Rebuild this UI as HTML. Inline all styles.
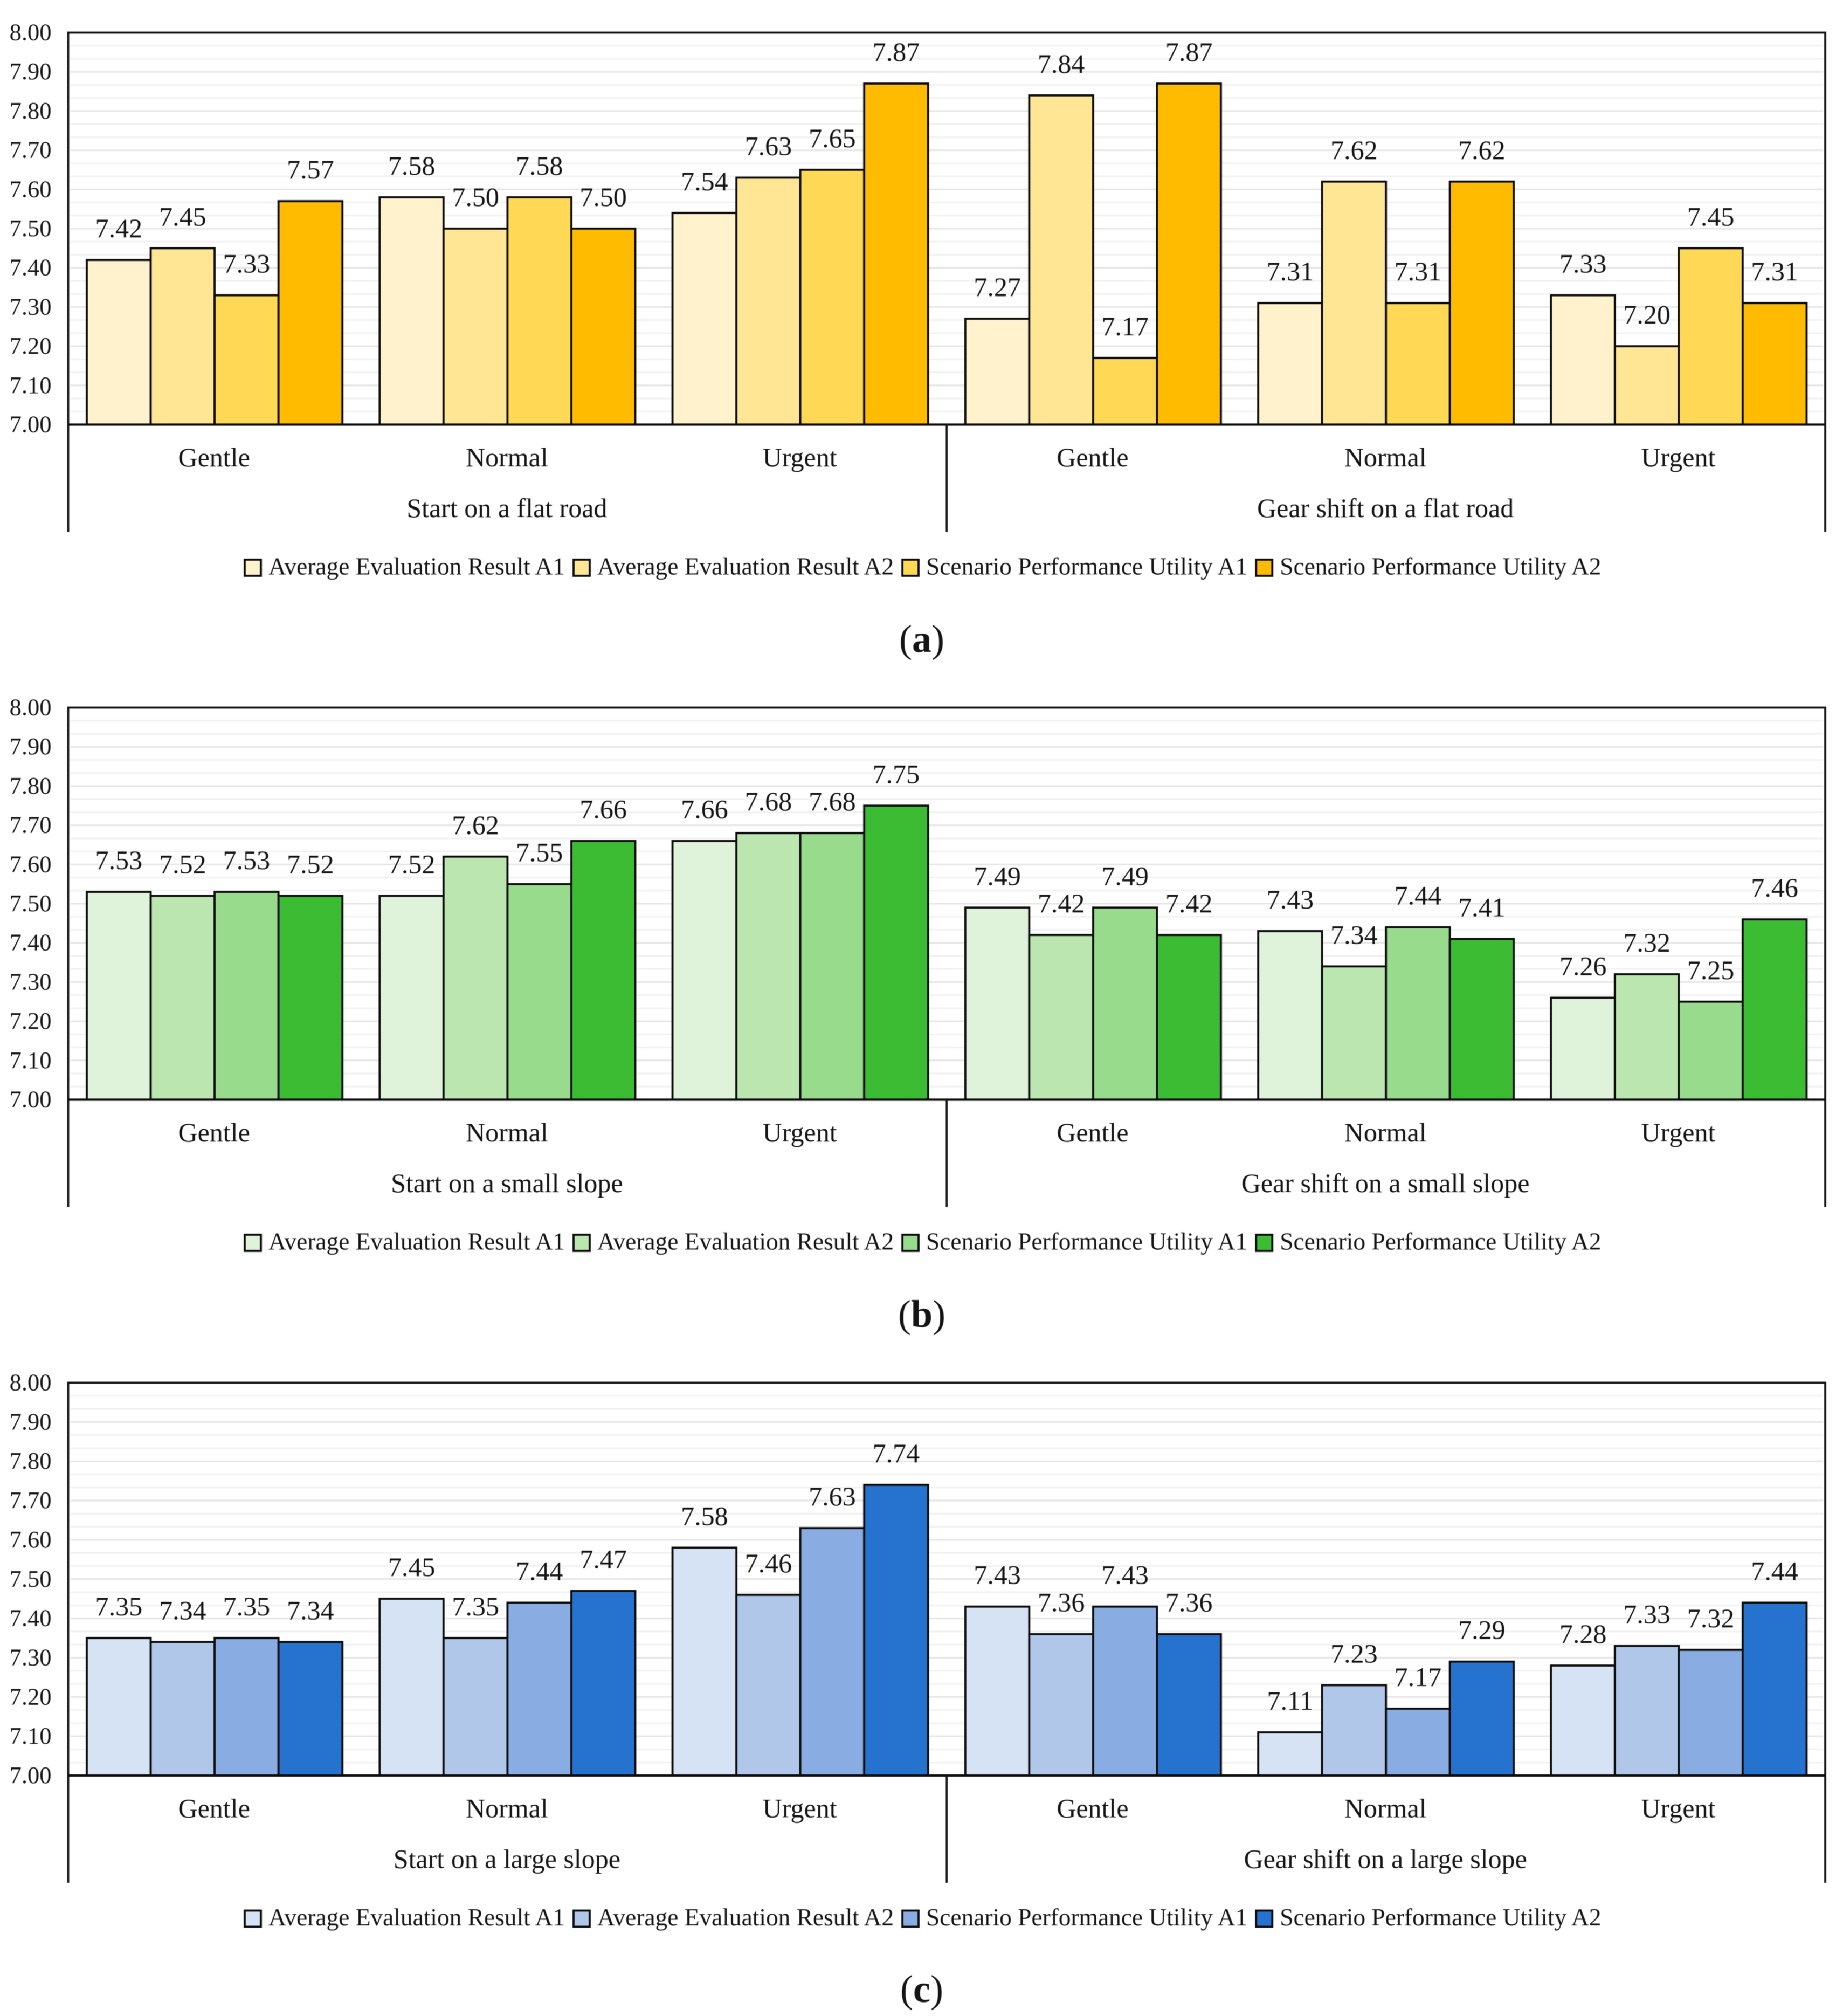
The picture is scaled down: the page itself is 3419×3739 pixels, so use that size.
<!DOCTYPE html>
<html lang="en">
<head>
<meta charset="utf-8">
<title>Evaluation results and scenario performance utility</title>
<style>
  html, body { margin: 0; padding: 0; background: #fff; }
  #figure { display: block; filter: blur(0.6px); }
  text { font-family: "Liberation Serif", serif; fill: #141414; }
</style>
</head>
<body>
<svg id="figure" xmlns="http://www.w3.org/2000/svg" width="3419" height="3739" viewBox="0 0 3419 3739"></svg>
<script>
// Shared labels
const seriesNames = ['Average Evaluation Result A1', 'Average Evaluation Result A2', 'Scenario Performance Utility A1', 'Scenario Performance Utility A2'];
const speedCategories = ['Gentle', 'Normal', 'Urgent', 'Gentle', 'Normal', 'Urgent'];
const tickLabels = ['7.00', '7.10', '7.20', '7.30', '7.40', '7.50', '7.60', '7.70', '7.80', '7.90', '8.00'];

// Panel (a): flat road
const flatGroups = ['Start on a flat road', 'Gear shift on a flat road'];
const flatEvalA1 = [7.42, 7.58, 7.54, 7.27, 7.31, 7.33];
const flatEvalA2 = [7.45, 7.50, 7.63, 7.84, 7.62, 7.20];
const flatUtilA1 = [7.33, 7.58, 7.65, 7.17, 7.31, 7.45];
const flatUtilA2 = [7.57, 7.50, 7.87, 7.87, 7.62, 7.31];
const flatColors = ['#FFF2CC', '#FFE695', '#FFD955', '#FFBB00'];

// Panel (b): small slope
const smallGroups = ['Start on a small slope', 'Gear shift on a small slope'];
const smallEvalA1 = [7.53, 7.52, 7.66, 7.49, 7.43, 7.26];
const smallEvalA2 = [7.52, 7.62, 7.68, 7.42, 7.34, 7.32];
const smallUtilA1 = [7.53, 7.55, 7.68, 7.49, 7.44, 7.25];
const smallUtilA2 = [7.52, 7.66, 7.75, 7.42, 7.41, 7.46];
const smallColors = ['#DFF2DA', '#BBE6B0', '#98DB8D', '#3CBC32'];

// Panel (c): large slope
const largeGroups = ['Start on a large slope', 'Gear shift on a large slope'];
const largeEvalA1 = [7.35, 7.45, 7.58, 7.43, 7.11, 7.28];
const largeEvalA2 = [7.34, 7.35, 7.46, 7.36, 7.23, 7.33];
const largeUtilA1 = [7.35, 7.44, 7.63, 7.43, 7.17, 7.32];
const largeUtilA2 = [7.34, 7.47, 7.74, 7.36, 7.29, 7.44];
const largeColors = ['#D6E3F4', '#B0C7E9', '#89ADE3', '#2573CF'];

const svg = document.getElementById('figure');
const NS = 'http://www.w3.org/2000/svg';
const plotLeft = 126.5;
const plotRight = 3386;
const yMin = 7;
const yMax = 8;

function shape(parent, tag, props) {
  const el = document.createElementNS(NS, tag);
  for (const key in props) el.setAttribute(key, props[key]);
  parent.appendChild(el);
  return el;
}

function label(parent, str, x, y, size, anchor) {
  const el = shape(parent, 'text', { x: x, y: y, 'font-size': size, 'text-anchor': anchor });
  el.textContent = str;
  return el;
}

function drawPanel(letter, top, base, captionBaseline, groups, series, colors) {
  const yScale = v => base - (v - yMin) / (yMax - yMin) * (base - top);
  const groupWidth = (plotRight - plotLeft) / speedCategories.length;
  const barWidth = groupWidth * 0.2182;
  const xScale = (g, s) => plotLeft + groupWidth * g + (groupWidth - barWidth * series.length) / 2 + barWidth * s;

  const panel = shape(svg, 'g', {});
  
  

  // Gridlines: major each tick, two minor lines between ticks
  for (let i = 1; i < (tickLabels.length - 1) * 3; i++) {
    const v = yMin + i * (yMax - yMin) / ((tickLabels.length - 1) * 3);
    const major = i % 3 === 0;
    const grid = shape(panel, 'line', { x1: plotLeft + 4, x2: plotRight - 4, y1: yScale(v), y2: yScale(v), stroke: major ? '#E6E6E6' : '#F1F1F1', 'stroke-width': 3 });
    
    
  }

  // Bars and value labels
  series.forEach((values, s) => {
    values.forEach((v, g) => {
      const barTop = yScale(v);
      const bar = shape(panel, 'rect', { x: xScale(g, s), y: barTop, width: barWidth, height: base - barTop, fill: colors[s], stroke: '#0c0c0c', 'stroke-width': 3.8 });
      
      
    });
  });
  series.forEach((values, s) => {
    values.forEach((v, g) => {
      const val = label(panel, v.toFixed(2), xScale(g, s) + barWidth / 2, yScale(v) - 42, 50, 'middle');
      
      
    });
  });

  // Chart frame and axis
  const frame = shape(panel, 'path', {
    d: 'M' + plotLeft + ' ' + (base + 199) + 'V' + top + 'H' + plotRight + 'V' + (base + 199),
    fill: 'none', stroke: '#141414', 'stroke-width': 3.8
  });
  
  

  const xAxis = shape(panel, 'line', { x1: plotLeft, x2: plotRight, y1: base, y2: base, stroke: '#0c0c0c', 'stroke-width': 4.2 });
  
  

  const mid = (plotLeft + plotRight) / 2;
  const divider = shape(panel, 'line', { x1: mid, x2: mid, y1: base, y2: base + 199, stroke: '#141414', 'stroke-width': 3.6 });
  
  

  // Y tick labels
  tickLabels.forEach(t => {
    const tick = label(panel, t, 95.5, yScale(parseFloat(t)) + 14, 44.5, 'end');
    
    
  });

  // Category labels
  speedCategories.forEach((c, g) => {
    const cat = label(panel, c, plotLeft + groupWidth * (g + 0.5) - 1, base + 77.5, 50, 'middle');
    
    
  });
  groups.forEach((name, i) => {
    const span = groupWidth * speedCategories.length / groups.length;
    const grp = label(panel, name, plotLeft + span * (i + 0.5) - 1, base + 171.5, 50, 'middle');
    
    
  });

  // Legend: flows left to right from the measured text widths
  const legend = shape(panel, 'g', {});
  
  
  let cursor = 454;
  seriesNames.forEach((name, s) => {
    const swatch = shape(legend, 'rect', { x: cursor, y: base + 250.5, width: 30, height: 30, fill: colors[s], stroke: '#0c0c0c', 'stroke-width': 3.8 });
    
    
    const entry = label(legend, name, cursor + 44, base + 278, 45.4, 'start');
    
    
    cursor += 44 + entry.getComputedTextLength() + 16;
  });

  // Panel caption
  const caption = shape(panel, 'text', { x: 1710, y: captionBaseline, 'font-size': 72, 'text-anchor': 'middle' });
  
  
  caption.appendChild(document.createTextNode('('));
  const bold = shape(caption, 'tspan', { 'font-weight': 'bold' });
  bold.textContent = letter;
  caption.appendChild(document.createTextNode(')'));
}

drawPanel('a', 60.5, 787.5, 1209, flatGroups, [flatEvalA1, flatEvalA2, flatUtilA1, flatUtilA2], flatColors);
drawPanel('b', 1312.5, 2039.5, 2461, smallGroups, [smallEvalA1, smallEvalA2, smallUtilA1, smallUtilA2], smallColors);
drawPanel('c', 2564.5, 3293, 3713, largeGroups, [largeEvalA1, largeEvalA2, largeUtilA1, largeUtilA2], largeColors);
</script>
</body>
</html>
